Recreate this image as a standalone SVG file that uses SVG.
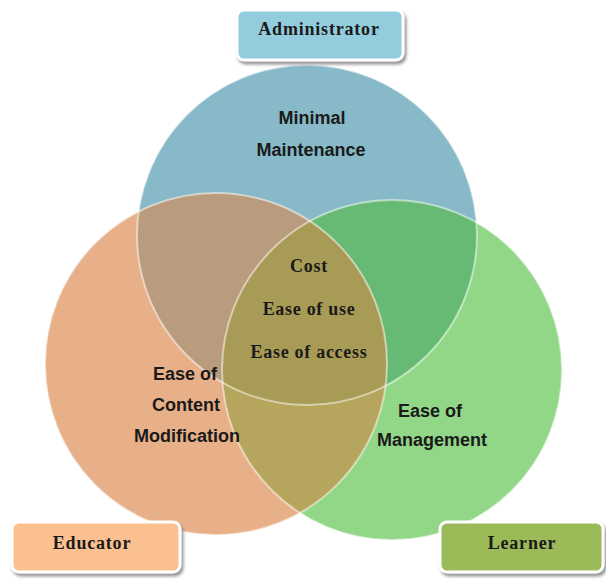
<svg xmlns="http://www.w3.org/2000/svg" width="606" height="579" viewBox="0 0 606 579">
<defs>
<filter id="shadow" x="-10%" y="-20%" width="125%" height="160%">
<feDropShadow dx="2" dy="3" stdDeviation="1.5" flood-color="#6a6a6a" flood-opacity="0.7"/>
</filter>
<clipPath id="clipBlue"><circle cx="307" cy="235" r="170"/></clipPath>
<clipPath id="clipOrange"><circle cx="216" cy="364" r="171"/></clipPath>
</defs>
<style>
.edge{fill:none;stroke:#ffffff;stroke-opacity:0.5;stroke-width:2}
.sans{font-family:"Liberation Sans",Arial,sans-serif;font-weight:bold;font-size:18px;fill:#1a1a1a;text-anchor:middle}
.serif{font-family:"Liberation Serif","Times New Roman",serif;font-weight:bold;font-size:18px;fill:#1a1a1a;text-anchor:middle;letter-spacing:0.7px}
.box{stroke:#ffffff;stroke-width:3;filter:url(#shadow)}
.lbl{font-family:"Liberation Serif","Times New Roman",serif;font-weight:bold;font-size:18px;fill:#1a1a1a;text-anchor:middle;letter-spacing:0.8px}
</style>
<rect width="606" height="579" fill="#ffffff"/>
<g id="set-administrator">
<circle cx="307" cy="235" r="170" fill="#87b9c8"/>
</g>
<g id="set-learner">
<circle cx="392" cy="370" r="170" fill="#91d787"/>
<circle cx="392" cy="370" r="170" fill="#66ba74" clip-path="url(#clipBlue)"/>
</g>
<g id="set-educator">
<circle cx="216" cy="364" r="171" fill="#e8b088"/>
<circle cx="216" cy="364" r="171" fill="#b99b7d" clip-path="url(#clipBlue)"/>
<g clip-path="url(#clipOrange)">
<circle cx="392" cy="370" r="170" fill="#b6a55c"/>
<circle cx="392" cy="370" r="170" fill="#a89b55" clip-path="url(#clipBlue)"/>
</g>
</g>
<g id="edges">
<circle class="edge" cx="307" cy="235" r="170"/>
<circle class="edge" cx="392" cy="370" r="170"/>
<circle class="edge" cx="216" cy="364" r="171"/>
</g>
<g id="label-minimal">
<text class="sans" x="312" y="124">Minimal</text>
<text class="sans" x="311" y="156">Maintenance</text>
</g>
<g id="label-content">
<text class="sans" x="185" y="380">Ease of</text>
<text class="sans" x="186" y="411">Content</text>
<text class="sans" x="187" y="442">Modification</text>
</g>
<g id="label-management">
<text class="sans" x="430" y="417">Ease of</text>
<text class="sans" x="432" y="446">Management</text>
</g>
<g id="label-common">
<text class="serif" x="309" y="272">Cost</text>
<text class="serif" x="309" y="315">Ease of use</text>
<text class="serif" x="309" y="358">Ease of access</text>
</g>
<g id="node-administrator">
<rect class="box" x="237" y="10" width="166" height="50" rx="7" fill="#93cddd"/>
<text class="lbl" x="319" y="35">Administrator</text>
</g>
<g id="node-educator">
<rect class="box" x="12" y="522" width="168" height="50" rx="7" fill="#fac090"/>
<text class="lbl" x="92" y="549">Educator</text>
</g>
<g id="node-learner">
<rect class="box" x="440" y="522" width="163" height="50" rx="7" fill="#9bbb59"/>
<text class="lbl" x="522" y="549">Learner</text>
</g>
</svg>
